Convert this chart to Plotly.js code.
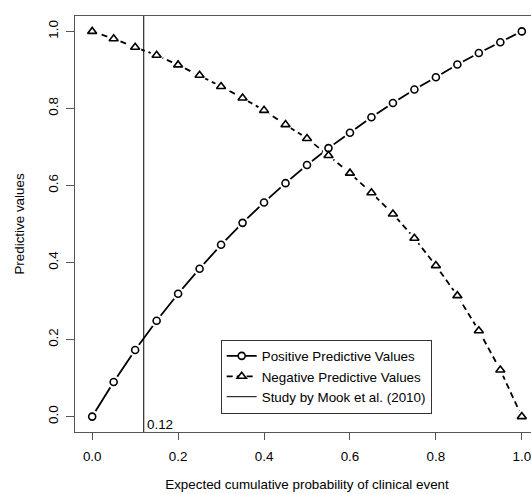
<!DOCTYPE html>
<html>
<head>
<meta charset="utf-8">
<script src="https://cdn.plot.ly/plotly-3.0.1.min.js"></script>
<style>
  html, body { margin: 0; padding: 0; overflow: hidden; background: #fff; }
  #chart { width: 545px; height: 494px; }
</style>
</head>
<body>
<div id="chart"></div>
<script>
// Expected cumulative probability of clinical event
const prob = [0.00, 0.05, 0.10, 0.15, 0.20, 0.25, 0.30, 0.35, 0.40, 0.45, 0.50,
              0.55, 0.60, 0.65, 0.70, 0.75, 0.80, 0.85, 0.90, 0.95, 1.00];
// Positive predictive values
const ppv = [0.000, 0.090, 0.173, 0.249, 0.319, 0.384, 0.446, 0.503, 0.556, 0.606, 0.653,
             0.697, 0.737, 0.777, 0.814, 0.849, 0.881, 0.914, 0.944, 0.972, 1.000];
// Negative predictive values
const npv = [1.000, 0.981, 0.959, 0.938, 0.913, 0.886, 0.857, 0.827, 0.795, 0.758, 0.722,
             0.678, 0.632, 0.581, 0.526, 0.463, 0.392, 0.314, 0.223, 0.121, 0.000];
// Reference study threshold
const studyX = 0.12;
const studyLabel = "0.12";
const tickVals = [0, 0.2, 0.4, 0.6, 0.8, 1.0];
const tickText = ["0.0", "0.2", "0.4", "0.6", "0.8", "1.0"];

const FONT = "Liberation Sans, Arial, Helvetica, sans-serif";
const FS = 13.4;
const INK = "#000";
const AXIS = "#555";

const traces = [
  // connecting lines
  { x: prob, y: ppv, mode: "lines", line: { color: INK, width: 1.8 }, showlegend: false, hoverinfo: "skip" },
  { x: prob, y: npv, mode: "lines", line: { color: INK, width: 1.8, dash: "6px,4px" }, showlegend: false, hoverinfo: "skip" },
  // white halos open a small gap in the line around each point
  { x: prob, y: ppv, mode: "markers", marker: { symbol: "circle", size: 13, color: "#fff" }, showlegend: false, hoverinfo: "skip" },
  { x: prob, y: npv, mode: "markers", marker: { symbol: "circle", size: 13, color: "#fff" }, showlegend: false, hoverinfo: "skip" },
  // point symbols
  { x: prob, y: ppv, mode: "markers", name: "Positive Predictive Values", showlegend: false,
    marker: { symbol: "circle", size: 7, color: "#fff", line: { color: INK, width: 1.6 } } },
  { x: prob, y: npv, mode: "markers", name: "Negative Predictive Values", showlegend: false,
    marker: { symbol: "triangle-up", size: 8, color: "#fff", line: { color: INK, width: 1.6 } } },
  // study threshold line spanning the whole panel
  { x: [studyX, studyX], y: [-0.2, 1.2], mode: "lines", line: { color: INK, width: 1 },
    showlegend: false, hoverinfo: "skip" },
  // legend keys
  { x: [null], y: [null], mode: "lines+markers", name: "Positive Predictive Values", legendrank: 1,
    line: { color: INK, width: 1.8 },
    marker: { symbol: "circle", size: 7, color: "#fff", line: { color: INK, width: 1.6 } } },
  { x: [null], y: [null], mode: "lines+markers", name: "Negative Predictive Values", legendrank: 2,
    line: { color: INK, width: 1.8, dash: "6px,4px" },
    marker: { symbol: "triangle-up", size: 8, color: "#fff", line: { color: INK, width: 1.6 } } },
  { x: [null], y: [null], mode: "lines", name: "Study by Mook et al. (2010)", legendrank: 3,
    line: { color: INK, width: 1 } }
];

const axisCommon = {
  range: [-0.04, 1.04],
  tickvals: tickVals,
  ticktext: tickText,
  ticks: "outside",
  tickcolor: AXIS,
  tickwidth: 1,
  showline: true,
  mirror: true,
  linecolor: AXIS,
  linewidth: 1.2,
  showgrid: false,
  zeroline: false,
  tickfont: { family: FONT, size: FS, color: INK },
  automargin: false
};

const layout = {
  width: 545,
  height: 494,
  margin: { l: 75, r: 6, t: 16, b: 62 },
  paper_bgcolor: "#fff",
  plot_bgcolor: "#fff",
  font: { family: FONT, size: FS, color: INK },
  xaxis: Object.assign({}, axisCommon, {
    ticklen: 7,
    ticklabelstandoff: 5,
    title: { text: "Expected cumulative probability of clinical event", font: { family: FONT, size: FS, color: INK }, standoff: 16 }
  }),
  yaxis: Object.assign({}, axisCommon, {
    ticklen: 8,
    tickangle: -90,
    ticklabelstandoff: 2,
    title: { text: "Predictive values", font: { family: FONT, size: FS, color: INK }, standoff: 18 }
  }),
  legend: {
    x: 0.314, y: 0.222, xanchor: "left", yanchor: "top",
    bgcolor: "#fff", bordercolor: "#333", borderwidth: 1,
    font: { family: FONT, size: FS, color: INK },
    itemwidth: 30,
    traceorder: "normal"
  },
  annotations: [
    { x: studyX, y: -0.02, xref: "x", yref: "y", text: studyLabel, showarrow: false,
      xanchor: "left", yanchor: "middle", xshift: 1, font: { family: FONT, size: FS, color: INK } }
  ],
  showlegend: true
};

Plotly.newPlot("chart", traces, layout, { displayModeBar: false, staticPlot: true });
</script>
</body>
</html>
